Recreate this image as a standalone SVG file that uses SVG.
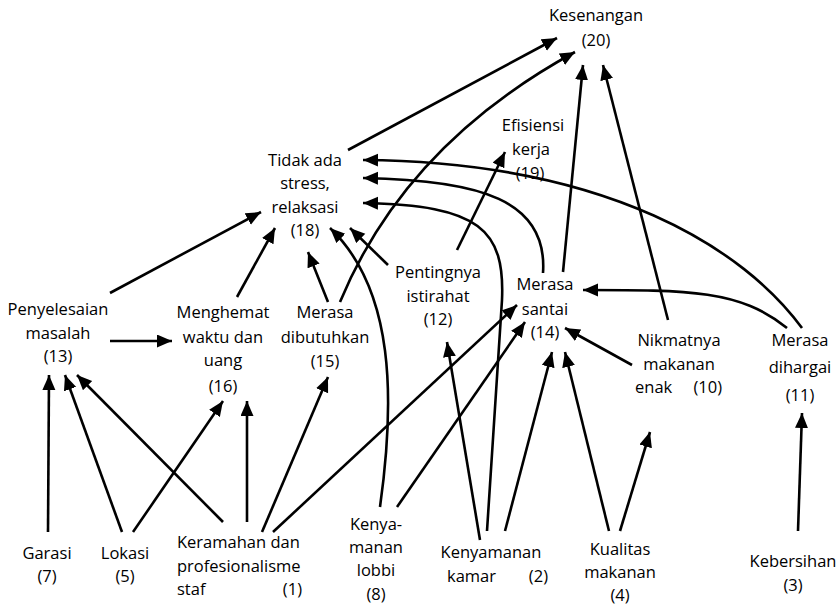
<svg xmlns="http://www.w3.org/2000/svg" width="840" height="606" viewBox="0 0 840 606">
<style>
text{font-family:"Open Sans","Liberation Sans",sans-serif;font-size:16.5px;fill:#000;text-anchor:middle}
.s{text-anchor:start}.e{text-anchor:end}
#edges path,#edges line{stroke:#000;stroke-width:2.6;fill:none;marker-end:url(#ah)}
</style>
<defs>
<marker id="ah" markerUnits="userSpaceOnUse" markerWidth="16" markerHeight="14" refX="15" refY="6.5" orient="auto">
<path d="M0,0 L15,6.5 L0,13 z" fill="#000"/>
</marker>
</defs>
<rect width="840" height="606" fill="#fff"/>
<g id="edges">
<line x1="348" y1="150" x2="557" y2="38"/>
<path d="M340,302 Q405,145 575,52"/>
<line x1="457" y1="250" x2="505" y2="152"/>
<line x1="563" y1="272" x2="583" y2="65"/>
<line x1="668" y1="320" x2="603" y2="65"/>
<path d="M802,328 C745,250 610,162 363,160"/>
<path d="M543,273 C548,200 480,180 363,178"/>
<path d="M487,531 L502,300 C505,230 480,205 363,203"/>
<path d="M380,507 C395,400 395,290 330,228"/>
<line x1="388" y1="265" x2="350" y2="228"/>
<line x1="328" y1="302" x2="308" y2="252"/>
<line x1="237" y1="297" x2="275" y2="228"/>
<line x1="110" y1="293" x2="261" y2="212"/>
<line x1="110" y1="341" x2="172" y2="341"/>
<line x1="48" y1="532" x2="49" y2="375"/>
<line x1="122" y1="532" x2="65" y2="375"/>
<line x1="223" y1="522" x2="77" y2="375"/>
<line x1="133" y1="532" x2="223" y2="401"/>
<line x1="247" y1="522" x2="247" y2="401"/>
<line x1="262" y1="532" x2="328" y2="377"/>
<line x1="273" y1="532" x2="517" y2="305"/>
<line x1="397" y1="507" x2="525" y2="322"/>
<line x1="480" y1="540" x2="447" y2="342"/>
<line x1="505" y1="531" x2="552" y2="352"/>
<line x1="609" y1="531" x2="565" y2="352"/>
<line x1="620" y1="531" x2="650" y2="432"/>
<line x1="798" y1="531" x2="802" y2="413"/>
<line x1="632" y1="365" x2="565" y2="328"/>
<path d="M787,328 C740,290 690,290 583,290"/>
</g>
<g id="n20"><text x="596" y="21">Kesenangan</text><text x="596" y="46">(20)</text></g>
<g id="n19"><text x="533" y="131">Efisiensi</text><text x="531" y="155">kerja</text><text x="530" y="179">(19)</text></g>
<g id="n18"><text x="305" y="166">Tidak ada</text><text x="305" y="189">stress,</text><text x="305" y="213">relaksasi</text><text x="305" y="236">(18)</text></g>
<g id="n13"><text x="58" y="315">Penyelesaian</text><text x="58" y="339">masalah</text><text x="58" y="362">(13)</text></g>
<g id="n16"><text x="223" y="318">Menghemat</text><text x="223" y="343">waktu dan</text><text x="223" y="366">uang</text><text x="223" y="392">(16)</text></g>
<g id="n15"><text x="325" y="318">Merasa</text><text x="325" y="343">dibutuhkan</text><text x="325" y="367">(15)</text></g>
<g id="n12"><text x="438" y="278">Pentingnya</text><text x="438" y="302">istirahat</text><text x="438" y="325">(12)</text></g>
<g id="n14"><text x="545" y="290">Merasa</text><text x="545" y="315">santai</text><text x="545" y="338">(14)</text></g>
<g id="n10"><text x="679" y="346">Nikmatnya</text><text x="679" y="370">makanan</text><text class="s" x="635" y="393">enak</text><text class="e" x="722" y="393">(10)</text></g>
<g id="n11"><text x="800" y="346">Merasa</text><text x="800" y="373">dihargai</text><text x="800" y="401">(11)</text></g>
<g id="n7"><text x="47" y="559">Garasi</text><text x="47" y="582">(7)</text></g>
<g id="n5"><text x="125" y="559">Lokasi</text><text x="125" y="582">(5)</text></g>
<g id="n1"><text class="s" x="177" y="548">Keramahan dan</text><text class="s" x="177" y="572">profesionalisme</text><text class="s" x="177" y="595">staf</text><text class="e" x="302" y="595">(1)</text></g>
<g id="n8"><text x="376" y="530">Kenya-</text><text x="376" y="553">manan</text><text x="376" y="576">lobbi</text><text x="376" y="600">(8)</text></g>
<g id="n2"><text x="491" y="558">Kenyamanan</text><text class="s" x="447" y="582">kamar</text><text class="e" x="548" y="582">(2)</text></g>
<g id="n4"><text x="620" y="555">Kualitas</text><text x="620" y="578">makanan</text><text x="620" y="601">(4)</text></g>
<g id="n3"><text x="793" y="567">Kebersihan</text><text x="793" y="591">(3)</text></g>
</svg>
